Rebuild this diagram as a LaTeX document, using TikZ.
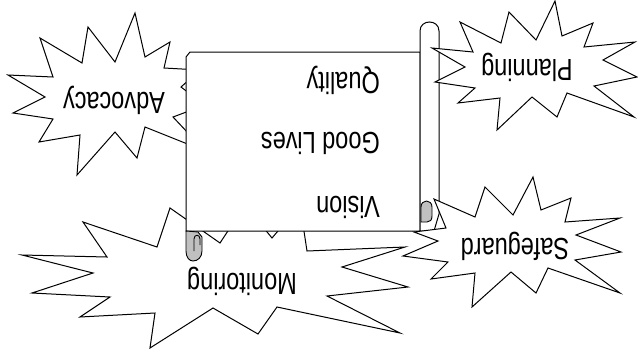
\documentclass[tikz,border=0pt]{standalone}
\usepackage{fontspec}
\setmainfont{Liberation Sans}
\definecolor{curlgrey}{HTML}{C0C0C0}
\tikzset{
  outline/.style={draw=black, fill=white, line width=1pt, line join=miter},
  burst/.style={outline},
  curl/.style={draw=black, fill=curlgrey, line width=0.9pt},
  lbl/.style={font=\fontsize{23.5}{26}\selectfont, rotate=180, yscale=1.3, inner sep=0pt},
  scrolltxt/.style={lbl, anchor=west}
}

\begin{document}
\begin{tikzpicture}[x=1pt, y=-1pt]
  \useasboundingbox (0,0) rectangle (638,360);

  \draw[burst] (135,13) -- (145,57) -- (170,42) -- (164,68) -- (200,70) -- (181,87) -- (205,105)
    -- (173,117) -- (205,151) -- (145,127) -- (137,158) -- (115,132) -- (77,175) -- (80,135)
    -- (39,142) -- (53,119) -- (13,113) -- (45,97) -- (8,75) -- (53,77) -- (40,38) -- (82,63)
    -- (88,27) -- (115,62) -- cycle;
  \node[lbl] (advocacy) at (114,100) {Advocacy};

  \draw[burst] (170,208) -- (220,243) -- (245,205) -- (272,238) -- (300,205) -- (307,251)
    -- (405,247) -- (342,267) -- (408,287) -- (327,296) -- (400,333) -- (277,307) -- (258,334)
    -- (213,308) -- (150,348) -- (155,313) -- (80,317) -- (110,297) -- (32,293) -- (93,273)
    -- (22,255) -- (107,257) -- (83,222) -- (157,247) -- cycle;
  \node[lbl] (monitoring) at (242,281) {Monitoring};

  \draw[outline] (190,52) -- (420,52) -- (420,231) -- (186,231) -- (186,57) -- cycle;
  \draw[outline] (420,231) -- (420,31) .. controls (420,19) and (439,19) .. (439,31)
    -- (439,214) -- (434,231) -- cycle;
  \draw[curl] (186,231) -- (186,251) .. controls (186,257) and (189,261) .. (193,261)
    .. controls (198,261) and (202,257) .. (202,251) -- (202,237) -- (198,232) -- cycle;
  \draw[line width=0.9pt] (194,251) -- (194,239) .. controls (194,234) and (200,234) .. (200,239) -- (200,245);
  \draw[curl] (421,222) -- (421,207) .. controls (421,199) and (432,199) .. (432,207)
    -- (432,216) .. controls (432,220) and (430,222) .. (427,222) -- cycle;

  \node[scrolltxt] (quality) at (380,80) {Quality};
  \node[scrolltxt] (goodlives) at (380,143) {Good Lives};
  \node[scrolltxt] (vision) at (380,207) {Vision};

  \draw[burst] (485,187) -- (513,215) -- (533,177) -- (541,210) -- (571,198) -- (565,222)
    -- (620,218) -- (576,235) -- (621,252) -- (575,260) -- (620,293) -- (548,268) -- (536,293)
    -- (511,272) -- (472,307) -- (475,273) -- (431,279) -- (448,262) -- (403,256) -- (438,241)
    -- (414,232) -- (446,228) -- (434,199) -- (475,217) -- cycle;
  \node[lbl] (safeguard) at (515,246) {Safeguard};

  \draw[burst] (555,1) -- (562,36) -- (593,23) -- (584,47) -- (635,42) -- (603,60) -- (637,77)
    -- (594,86) -- (634,117) -- (567,93) -- (557,117) -- (532,97) -- (497,130) -- (500,98)
    -- (458,103) -- (475,88) -- (435,82) -- (465,67) -- (432,48) -- (473,52) -- (460,22)
    -- (501,43) -- (509,12) -- (536,40) -- cycle;
  \node[lbl] (planning) at (527,67) {Planning};
\end{tikzpicture}
\end{document}
